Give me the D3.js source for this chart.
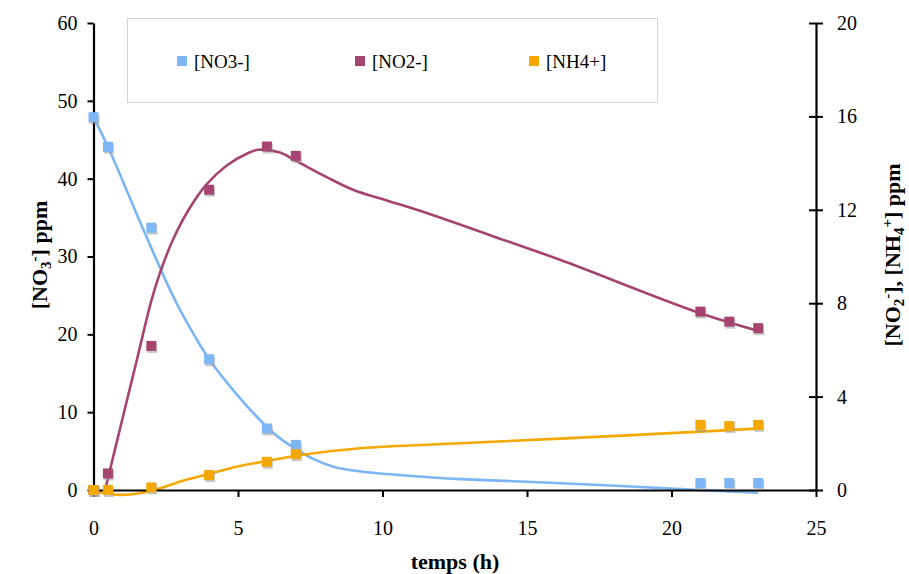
<!DOCTYPE html>
<html><head><meta charset="utf-8">
<script src="https://cdn.jsdelivr.net/npm/d3@7"></script>
<style>body{margin:0;background:#fff}svg{display:block}svg text{font-family:"Times New Roman","Liberation Serif","Tinos","DejaVu Serif",serif !important;fill:#000}</style>
</head><body>
<script>
// measured data
const times = [0, 0.5, 2, 4, 6, 7, 21, 22, 23];
const no3 = [47.9, 44.1, 33.7, 16.8, 7.9, 5.8, 0.9, 0.9, 0.9];
const no2 = [0, 0.71, 6.17, 12.86, 14.71, 14.31, 7.64, 7.21, 6.93];
const nh4 = [0, 0, 0.11, 0.64, 1.21, 1.54, 2.79, 2.74, 2.79];
// model curves
const no3FitT = [0, 0.5, 1, 1.5, 2, 2.5, 3, 3.5, 4, 5, 6, 6.5, 7, 7.6, 8.3, 9.2, 11, 12.7, 16, 21, 23];
const no3FitV = [47.9, 44.1, 39.8, 35.4, 31.1, 26.9, 23.1, 19.8, 16.8, 12.1, 8.1, 6.5, 5.3, 4.0, 3.0, 2.4, 1.8, 1.4, 0.9, 0.0, -0.35];
const no2FitT = [0.4, 1, 1.5, 2, 2.3, 2.76, 3.34, 3.92, 4.61, 5.3, 5.7, 6.45, 7, 8.07, 9, 10.15, 11.53, 13.84, 16.14, 21, 23.1];
const no2FitV = [0, 3.04, 5.57, 8.1, 9.3, 10.75, 12.1, 13.1, 13.9, 14.4, 14.57, 14.45, 14.1, 13.4, 12.85, 12.4, 11.86, 10.86, 9.86, 7.57, 6.78];
const nh4FitT = [0, 0.5, 0.92, 1.6, 2.3, 3, 4, 4.95, 6, 7, 9.22, 12.68, 16.14, 21, 23.1];
const nh4FitV = [-0.05, -0.15, -0.21, -0.14, 0.07, 0.36, 0.69, 1.0, 1.24, 1.47, 1.79, 2.0, 2.2, 2.5, 2.64];
const xTicks = [0, 5, 10, 15, 20, 25];
const yLeftTicks = [0, 10, 20, 30, 40, 50, 60];
const yRightTicks = [0, 4, 8, 12, 16, 20];
const legendLabels = ["[NO3-]", "[NO2-]", "[NH4+]"];
const colors = {no3: "#7cb6f5", no2: "#a5456f", nh4: "#f5a800"};

const W = 909, H = 574;
const svg = d3.select("body").append("svg").attr("width", W).attr("height", H);
const x = d3.scaleLinear().domain([0, 25]).range([93.5, 816]);
const yL = d3.scaleLinear().domain([0, 60]).range([490, 23]);
const yR = d3.scaleLinear().domain([0, 20]).range([490, 23]);

// legend
const lg = svg.append("g");
lg.append("rect").attr("x", 127.5).attr("y", 18.5).attr("width", 530).attr("height", 84)
  .attr("fill", "#fff").attr("stroke", "#d4d4d4").attr("stroke-width", 1);
const legCols = [colors.no3, colors.no2, colors.nh4];
const legX = [182, 360, 534];
legendLabels.forEach((l, i) => {
  lg.append("rect").attr("x", legX[i] - 5).attr("y", 56).attr("width", 10).attr("height", 10).attr("fill", legCols[i]);
  lg.append("text").attr("x", legX[i] + 12).attr("y", 68).attr("font-size", 19).text(l);
});

// curves
function curve(ts, vs, ys, col) {
  const pts = ts.map((t, i) => [t, vs[i]]);
  svg.append("path").datum(pts)
    .attr("d", d3.line().x(d => x(d[0])).y(d => ys(d[1])).curve(d3.curveCatmullRom.alpha(0.5)))
    .attr("fill", "none").attr("stroke", col).attr("stroke-width", 2.6);
}
curve(no3FitT, no3FitV, yL, colors.no3);
curve(no2FitT, no2FitV, yR, colors.no2);
curve(nh4FitT, nh4FitV, yR, colors.nh4);

// axes
const axG = svg.append("g");
const axL = axG.append("g").attr("transform", "translate(93.5,0)")
  .call(d3.axisLeft(yL).tickValues(yLeftTicks).tickSize(6).tickPadding(10).tickSizeOuter(0));
const axR = axG.append("g").attr("transform", "translate(816,0)")
  .call(d3.axisRight(yR).tickValues(yRightTicks).tickSize(7).tickPadding(14).tickSizeOuter(0));
axR.selectAll(".tick line").attr("x1", -7);
const axB = axG.append("g").attr("transform", "translate(0,490)")
  .call(d3.axisBottom(x).tickValues(xTicks).tickSize(7).tickPadding(24).tickSizeOuter(0));
axG.selectAll("g").attr("font-family", null);
axG.selectAll(".domain").attr("stroke", "#000").attr("stroke-width", 2.2);
axG.selectAll(".tick line").attr("stroke", "#000").attr("stroke-width", 2);
axG.selectAll(".tick text").attr("font-size", 20).attr("fill", "#000");

// markers
function markers(vals, ys, col) {
  const g = svg.append("g");
  g.selectAll(".s").data(times).join("rect")
    .attr("x", (t) => x(t) - 5 + 1).attr("y", (t, i) => ys(vals[i]) - 5 + 2)
    .attr("width", 10).attr("height", 10).attr("fill", "#9a9a9a").attr("opacity", 0.55);
  g.selectAll(".m").data(times).join("rect")
    .attr("x", (t) => x(t) - 5).attr("y", (t, i) => ys(vals[i]) - 5)
    .attr("width", 10).attr("height", 10).attr("fill", col);
}
markers(no2, yR, colors.no2);
markers(no3, yL, colors.no3);
markers(nh4, yR, colors.nh4);

// axis titles
const tl = svg.append("text").attr("transform", "translate(47,255) rotate(-90)")
  .attr("text-anchor", "middle").attr("font-weight", "bold").attr("font-size", 22);
tl.append("tspan").text("[NO");
tl.append("tspan").attr("font-size", 15).attr("dy", 4).text("3");
tl.append("tspan").attr("font-size", 15).attr("dy", -12).text("-");
tl.append("tspan").attr("dy", 8).text("] ppm");

const tr = svg.append("text").attr("transform", "translate(900,255) rotate(-90)")
  .attr("text-anchor", "middle").attr("font-weight", "bold").attr("font-size", 22);
tr.append("tspan").text("[NO");
tr.append("tspan").attr("font-size", 15).attr("dy", 4).text("2");
tr.append("tspan").attr("font-size", 15).attr("dy", -12).text("-");
tr.append("tspan").attr("dy", 8).text("], [NH");
tr.append("tspan").attr("font-size", 15).attr("dy", 4).text("4");
tr.append("tspan").attr("font-size", 15).attr("dy", -12).text("+");
tr.append("tspan").attr("dy", 8).text("] ppm");

svg.append("text").attr("x", 455).attr("y", 569).attr("text-anchor", "middle")
  .attr("font-weight", "bold").attr("font-size", 22).text("temps (h)");
</script>
</body></html>
